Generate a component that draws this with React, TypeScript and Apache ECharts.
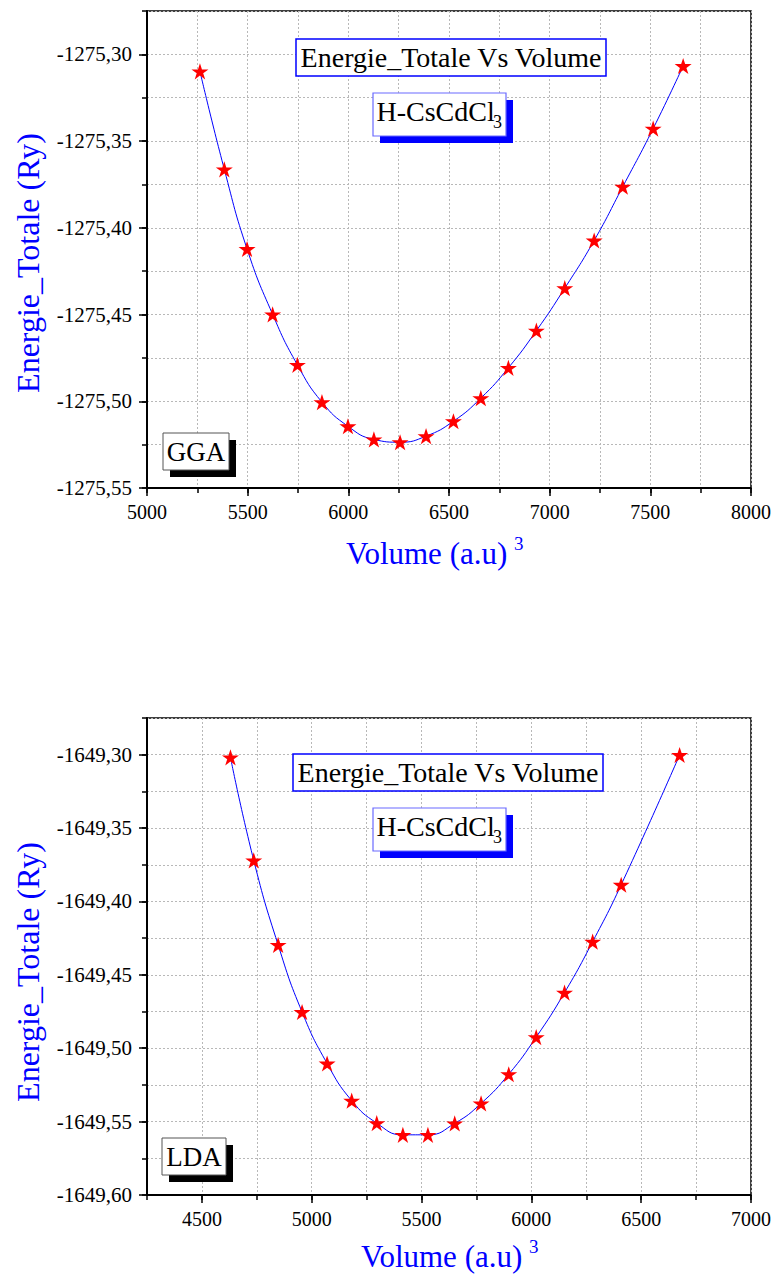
import React, { useEffect, useRef } from 'react';
import * as echarts from 'echarts';

// ---- GGA data (top panel) ----
const ggaVolume = [5263, 5384, 5497, 5624, 5747, 5869, 5998, 6127, 6257, 6386, 6522, 6658, 6795, 6934, 7075, 7221, 7363, 7514, 7663];
const ggaEnergy = [-1275.3098, -1275.3663, -1275.4122, -1275.4499, -1275.4790, -1275.5005, -1275.5144, -1275.5220, -1275.5236, -1275.5201, -1275.5115, -1275.4982, -1275.4807, -1275.4593, -1275.4348, -1275.4073, -1275.3763, -1275.3428, -1275.3067];

// ---- LDA data (bottom panel) ----
const ldaVolume = [4630, 4736, 4847, 4956, 5070, 5182, 5296, 5415, 5529, 5651, 5771, 5897, 6022, 6151, 6279, 6409, 6675];
const ldaEnergy = [-1649.3018, -1649.3720, -1649.4296, -1649.4753, -1649.5104, -1649.5357, -1649.5510, -1649.5590, -1649.5590, -1649.5512, -1649.5376, -1649.5177, -1649.4924, -1649.4621, -1649.4274, -1649.3886, -1649.3002];

// ---- tick labels ----
const ggaXTicks = [5000, 5500, 6000, 6500, 7000, 7500, 8000];
const ggaYTicks = [-1275.55, -1275.5, -1275.45, -1275.4, -1275.35, -1275.3];
const ldaXTicks = [4500, 5000, 5500, 6000, 6500, 7000];
const ldaYTicks = [-1649.6, -1649.55, -1649.5, -1649.45, -1649.4, -1649.35, -1649.3];

// ---- texts ----
const plotTitle = 'Energie_Totale Vs Volume';
const compound = 'H-CsCdCl';
const compoundSub = '3';
const yTitle = 'Energie_Totale (Ry)';
const xTitle = 'Volume (a.u)';
const xTitleSup = '3';
const methods = ['GGA', 'LDA'];

const FONT = 'Liberation Serif';
const STAR = 'path://M50,0 L61.2,34.5 L97.6,34.5 L68.2,55.9 L79.4,90.5 L50,69.1 L20.6,90.5 L31.8,55.9 L2.4,34.5 L38.8,34.5 Z';

function xAxes(gridIndex: number, min: number, max: number, step: number, majors: number[]) {
  return [
    {
      type: 'value', gridIndex, position: 'bottom', min, max, interval: step,
      axisLine: { show: true, onZero: false, lineStyle: { color: '#000', width: 2 } },
      axisTick: { show: true, length: 5, lineStyle: { color: '#000', width: 1.5 } },
      axisLabel: {
        customValues: majors, fontFamily: FONT, fontSize: 20, color: '#000', margin: 14,
        formatter: (v: number) => String(Math.round(v)),
      },
      splitLine: { show: true, lineStyle: { color: '#b8b8b8', width: 1, type: [2, 2] } },
    },
    {
      type: 'value', gridIndex, position: 'bottom', min, max,
      axisLine: { show: false, onZero: false },
      axisTick: { show: true, customValues: majors, length: 8, lineStyle: { color: '#000', width: 1.5 } },
      axisLabel: { show: false },
      splitLine: { show: false },
    },
  ];
}

function yAxes(gridIndex: number, min: number, max: number, step: number, majors: number[]) {
  return [
    {
      type: 'value', gridIndex, position: 'left', min, max, interval: step,
      axisLine: { show: true, onZero: false, lineStyle: { color: '#000', width: 2 } },
      axisTick: { show: true, length: 5, lineStyle: { color: '#000', width: 1.5 } },
      axisLabel: {
        customValues: majors, fontFamily: FONT, fontSize: 21, color: '#000', margin: 15,
        formatter: (v: number) => v.toFixed(2).replace('.', ','),
      },
      splitLine: { show: true, lineStyle: { color: '#b8b8b8', width: 1, type: [2, 2] } },
    },
    {
      type: 'value', gridIndex, position: 'left', min, max,
      axisLine: { show: false, onZero: false },
      axisTick: { show: true, customValues: majors, length: 8, lineStyle: { color: '#000', width: 1.5 } },
      axisLabel: { show: false },
      splitLine: { show: false },
    },
  ];
}

function txt(x: number, y: number, text: string, size: number, fill: string, align: string, extra: any = {}) {
  return { type: 'text', x, y, z: 11, ...extra, style: { text, fontFamily: FONT, fontSize: size, fill, align, verticalAlign: 'middle' } };
}

function panelGraphics(oy: number, label: string, labelBox: number[], titleBoxX: number, xTitleX: number, xTitleY: number, yTitleY: number) {
  const els: any[] = [];
  els.push({ type: 'rect', shape: { x: titleBoxX, y: oy + 28, width: 310, height: 37 }, style: { fill: '#fff', stroke: '#0000ff', lineWidth: 1.5 }, z: 10 });
  els.push(txt(titleBoxX + 155, oy + 46.5, plotTitle, 28, '#000', 'center'));
  els.push({ type: 'rect', shape: { x: 380, y: oy + 89, width: 133, height: 43 }, style: { fill: '#0000ff' }, z: 10 });
  els.push({ type: 'rect', shape: { x: 373, y: oy + 82, width: 133, height: 43 }, style: { fill: '#fff', stroke: '#6a6aff', lineWidth: 1.2 }, z: 10 });
  els.push(txt(376.5, oy + 100, compound, 28, '#000', 'left'));
  els.push(txt(493, oy + 111, compoundSub, 18, '#000', 'left'));
  const [bx, by, bw, bh] = labelBox;
  els.push({ type: 'rect', shape: { x: bx + 7, y: by + 7, width: bw, height: bh }, style: { fill: '#000' }, z: 10 });
  els.push({ type: 'rect', shape: { x: bx, y: by, width: bw, height: bh }, style: { fill: '#fff', stroke: '#555', lineWidth: 1 }, z: 10 });
  els.push(txt(bx + bw / 2, by + bh / 2 + 0.5, label, 27, '#000', 'center'));
  els.push(txt(xTitleX, xTitleY, xTitle, 31, '#0000ff', 'left'));
  els.push(txt(xTitleX + 168, xTitleY - 10, xTitleSup, 19, '#0000ff', 'left'));
  els.push(txt(28, yTitleY, yTitle, 32, '#0000ff', 'center', { rotation: Math.PI / 2 }));
  return els;
}

export default function App() {
  const ref = useRef<HTMLDivElement>(null);
  useEffect(() => {
    if (!ref.current) return;
    const chart = echarts.init(ref.current, undefined, { renderer: 'svg' });
    const option: any = {
      animation: false,
      backgroundColor: '#fff',
      grid: [
        { left: 147, top: 11, width: 604, height: 477, show: true, borderColor: '#000', borderWidth: 1.5, containLabel: false },
        { left: 147, top: 718, width: 604, height: 477, show: true, borderColor: '#000', borderWidth: 1.5, containLabel: false },
      ],
      xAxis: [
        ...xAxes(0, 5000, 8000, 250, ggaXTicks),
        ...xAxes(1, 4250, 7000, 250, ldaXTicks),
      ],
      yAxis: [
        ...yAxes(0, -1275.55, -1275.275, 0.025, ggaYTicks),
        ...yAxes(1, -1649.6, -1649.275, 0.025, ldaYTicks),
      ],
      series: [
        {
          name: methods[0], type: 'line', xAxisIndex: 0, yAxisIndex: 0,
          data: ggaVolume.map((v, i) => [v, ggaEnergy[i]]),
          smooth: 0.5, symbol: STAR, symbolSize: 17, symbolKeepAspect: true,
          itemStyle: { color: '#ff0000' }, lineStyle: { color: '#0000ff', width: 1 }, z: 3,
        },
        {
          name: methods[1], type: 'line', xAxisIndex: 2, yAxisIndex: 2,
          data: ldaVolume.map((v, i) => [v, ldaEnergy[i]]),
          smooth: 0.5, symbol: STAR, symbolSize: 17, symbolKeepAspect: true,
          itemStyle: { color: '#ff0000' }, lineStyle: { color: '#0000ff', width: 1 }, z: 3,
        },
      ],
      graphic: [
        ...panelGraphics(11, methods[0], [163, 433, 66, 37], 296, 346, 553, 263),
        ...panelGraphics(726, methods[1], [162, 1138, 64, 37], 293, 361, 1256, 972),
      ],
    };
    chart.setOption(option);
    return () => chart.dispose();
  }, []);
  return <div ref={ref} style={{ position: 'absolute', left: 0, top: 0, width: 775, height: 1277, background: '#fff' }} />;
}
